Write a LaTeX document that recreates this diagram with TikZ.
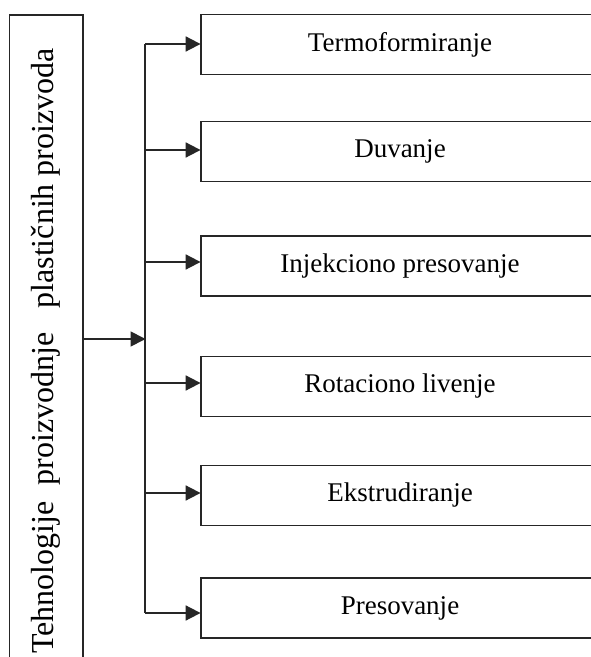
\documentclass[tikz,border=0pt]{standalone}
\usepackage{fontspec}
\setmainfont{Liberation Serif}
\usetikzlibrary{arrows.meta}
\begin{document}
\begin{tikzpicture}[x=1pt,y=1pt,
  ln/.style={line width=1.8pt, draw=black!85},
  arr/.style={ln, -{Triangle[length=15pt,width=15pt]}, shorten >=-0.5pt},
  proc/.style={ln, draw, minimum width=398pt, minimum height=60pt, inner sep=0pt,
    font=\fontsize{27}{32}\selectfont},
  srcbox/.style={ln, draw, rotate=90, minimum width=672pt, minimum height=73.5pt, inner sep=0pt,
    font=\fontsize{32}{38}\selectfont}]
\useasboundingbox (0,0) rectangle (591,657);
\clip (0,0) rectangle (591,657);
\node[srcbox] (src) at (46.25,306) {Tehnologije\ \ proizvodnje\ \ \ plastičnih proizvoda};
\node[proc] (b1) at (400,612.5) {Termoformiranje};
\node[proc] (b2) at (400,505.5) {Duvanje};
\node[proc] (b3) at (400,391) {Injekciono presovanje};
\node[proc] (b4) at (400,270.5) {Rotaciono livenje};
\node[proc] (b5) at (400,161.5) {Ekstrudiranje};
\node[proc] (b6) at (400,49) {Presovanje};
\coordinate (hub) at (145,318);
\coordinate (t1) at (145,613);
\coordinate (t2) at (145,507);
\coordinate (t3) at (145,395);
\coordinate (t4) at (145,274);
\coordinate (t5) at (145,164);
\coordinate (t6) at (145,44);
\draw[ln] (t1) -- (t6);
\draw[arr] (src.south |- hub) -- (hub);
\foreach \i in {1,...,6} {
  \draw[arr] (t\i) -- (t\i -| b\i.west);
}
\end{tikzpicture}
\end{document}
